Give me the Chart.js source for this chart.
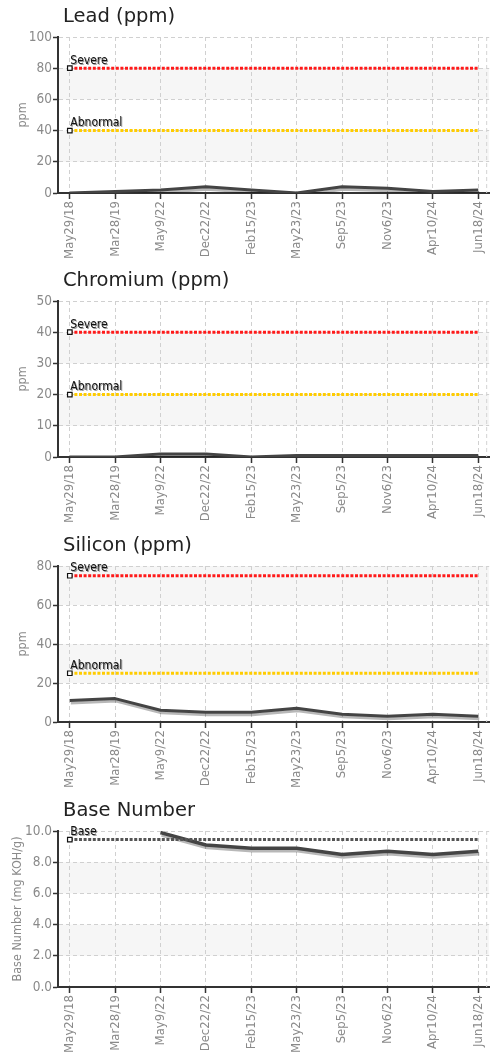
<!DOCTYPE html>
<html><head><meta charset="utf-8">
<script src="https://cdn.jsdelivr.net/npm/chart.js@4.4.1/dist/chart.umd.min.js"></script>
<style>
html,body{margin:0;padding:0;background:#fff;}
body{width:496px;height:1054px;position:relative;overflow:hidden;}
.block{position:absolute;left:0;width:496px;}
.title{position:absolute;left:63px;top:6px;font:19.5px/20px "DejaVu Sans",sans-serif;color:#222;white-space:nowrap;}
canvas{position:absolute;left:0;top:0;}
</style></head><body>
<div class="block" style="top:0;height:264px"><canvas id="c0" width="496" height="264"></canvas><div class="title">Lead (ppm)</div></div>
<div class="block" style="top:264px;height:264px"><canvas id="c1" width="496" height="264"></canvas><div class="title">Chromium (ppm)</div></div>
<div class="block" style="top:529px;height:264px"><canvas id="c2" width="496" height="264"></canvas><div class="title">Silicon (ppm)</div></div>
<div class="block" style="top:794px;height:260px"><canvas id="c3" width="496" height="260"></canvas><div class="title">Base Number</div></div>
<script>
const dates = ['May29/18','Mar28/19','May9/22','Dec22/22','Feb15/23','May23/23','Sep5/23','Nov6/23','Apr10/24','Jun18/24'];

const leadValues = [0, 1, 2, 4, 2, 0, 4, 3, 1, 2];
const leadLimits = [80, 40];
const leadTicks = [0, 20, 40, 60, 80, 100];

const chromiumValues = [0, 0, 1, 1, 0, 0.5, 0.5, 0.5, 0.5, 0.5];
const chromiumLimits = [40, 20];
const chromiumTicks = [0, 10, 20, 30, 40, 50];

const siliconValues = [11, 12, 6, 5, 5, 7, 4, 3, 4, 3];
const siliconLimits = [75, 25];
const siliconTicks = [0, 20, 40, 60, 80];

const baseValues = [null, null, 9.9, 9.1, 8.9, 8.9, 8.5, 8.7, 8.5, 8.7];
const baseLimits = [9.45];
const baseTicks = [0, 2, 4, 6, 8, 10];

const limitNames = ['Severe', 'Abnormal'];
const baseLimitNames = ['Base'];

const FONT = '"DejaVu Sans Condensed", "DejaVu Sans", sans-serif';
const GRAY = '#8a8a8a';

function makeChart(id, values, limits, names, colors, ticks, decimals, yTitle, titlePad, xHeight, lineW) {
  const dataIdx = limits.length;
  const datasets = limits.map((v, k) => ({
    label: names[k],
    data: dates.map((_, i) => ({x: i, y: v})),
    borderColor: colors[k],
    borderWidth: 3,
    borderDash: [3, 1.6],
    pointStyle: 'rect',
    pointRadius: c => c.dataIndex === 0 ? 3.2 : 0,
    pointHoverRadius: 0,
    pointBackgroundColor: '#fff',
    pointBorderColor: '#111',
    pointBorderWidth: 1.2,
    tension: 0
  }));
  datasets.push({
    label: 'value',
    data: values.map((v, i) => ({x: i, y: v})),
    borderColor: '#444444',
    borderWidth: lineW,
    pointRadius: 0,
    tension: 0,
    borderJoinStyle: 'round'
  });

  const bandPlugin = {
    id: 'bands',
    beforeDraw(chart) {
      const {ctx, chartArea: a, scales: {y}} = chart;
      ctx.save();
      ctx.fillStyle = '#f6f6f6';
      for (let i = 1; i < ticks.length - 1; i += 2) {
        const top = y.getPixelForValue(ticks[i + 1]);
        const bot = y.getPixelForValue(ticks[i]);
        ctx.fillRect(a.left, top, a.right - a.left, bot - top);
      }
      ctx.restore();
    }
  };
  const shadowPlugin = {
    id: 'shadow',
    beforeDatasetDraw(chart, args) {
      if (args.index !== dataIdx) return;
      const ctx = chart.ctx;
      ctx.save();
      ctx.shadowColor = 'rgba(0,0,0,0.28)';
      ctx.shadowOffsetX = 1;
      ctx.shadowOffsetY = 2.5;
      ctx.shadowBlur = 0.5;
    },
    afterDatasetDraw(chart, args) {
      if (args.index !== dataIdx) return;
      chart.ctx.restore();
    }
  };
  const labelPlugin = {
    id: 'limitLabels',
    afterDatasetsDraw(chart) {
      const {ctx, chartArea: a} = chart;
      ctx.save();
      ctx.setLineDash([4, 3]);
      ctx.strokeStyle = '#d4d4d4';
      ctx.lineWidth = 1;
      ctx.beginPath();
      ctx.moveTo(a.right - 2.5, a.top);
      ctx.lineTo(a.right - 2.5, a.bottom);
      ctx.stroke();
      ctx.setLineDash([]);
      ctx.font = '12px ' + FONT;
      ctx.textAlign = 'left';
      ctx.textBaseline = 'alphabetic';
      ctx.fillStyle = '#111';
      ctx.shadowColor = 'rgba(0,0,0,0.4)';
      ctx.shadowOffsetX = 1;
      ctx.shadowOffsetY = 1;
      ctx.shadowBlur = 0.5;
      for (let k = 0; k < limits.length; k++) {
        const p = chart.getDatasetMeta(k).data[0];
        ctx.fillText(names[k], p.x + 0.5, p.y - 4.5);
      }
      ctx.restore();
    }
  };

  return new Chart(document.getElementById(id), {
    type: 'line',
    data: {datasets},
    plugins: [bandPlugin, shadowPlugin, labelPlugin],
    options: {
      responsive: false,
      animation: false,
      events: [],
      layout: {padding: {top: 37, right: 5, left: 0, bottom: 0}},
      plugins: {legend: {display: false}, tooltip: {enabled: false}, title: {display: false}},
      scales: {
        x: {
          type: 'linear',
          min: -0.26,
          max: 9.24,
          afterBuildTicks: s => { s.ticks = dates.map((_, i) => ({value: i})); },
          afterFit: s => { s.height = xHeight; },
          ticks: {
            autoSkip: false,
            minRotation: 90,
            maxRotation: 90,
            padding: 2,
            color: GRAY,
            font: {family: FONT, size: 13},
            callback: v => dates[v]
          },
          grid: {color: '#d0d0d0', tickColor: '#333', tickLength: 6, tickWidth: 1.5, lineWidth: 1},
          border: {color: '#333', width: 2, dash: [4, 3]}
        },
        y: {
          min: ticks[0],
          max: ticks[ticks.length - 1],
          afterBuildTicks: s => { s.ticks = ticks.map(v => ({value: v})); },
          afterFit: s => { s.width = 58; },
          ticks: {
            padding: 1,
            color: GRAY,
            font: {family: FONT, size: 13.5},
            callback: v => v.toFixed(decimals)
          },
          title: {
            display: true,
            text: yTitle,
            color: GRAY,
            font: {family: FONT, size: 12.5},
            padding: {top: titlePad, bottom: 0}
          },
          grid: {color: '#d0d0d0', tickColor: '#333', tickLength: 5, tickWidth: 1.5, lineWidth: 1},
          border: {color: '#333', width: 2, dash: [4, 3]}
        }
      }
    }
  });
}

const sevAbnColors = ['#ff1a1a', '#ffcc00'];
makeChart('c0', leadValues, leadLimits, limitNames, sevAbnColors, leadTicks, 0, 'ppm', 15.5, 71, 3);
makeChart('c1', chromiumValues, chromiumLimits, limitNames, sevAbnColors, chromiumTicks, 0, 'ppm', 15.5, 71, 3);
makeChart('c2', siliconValues, siliconLimits, limitNames, sevAbnColors, siliconTicks, 0, 'ppm', 15.5, 71, 3);
makeChart('c3', baseValues, baseLimits, baseLimitNames, ['#555555'], baseTicks, 1, 'Base Number (mg KOH/g)', 10.5, 67, 3.5);
</script>
</body></html>
